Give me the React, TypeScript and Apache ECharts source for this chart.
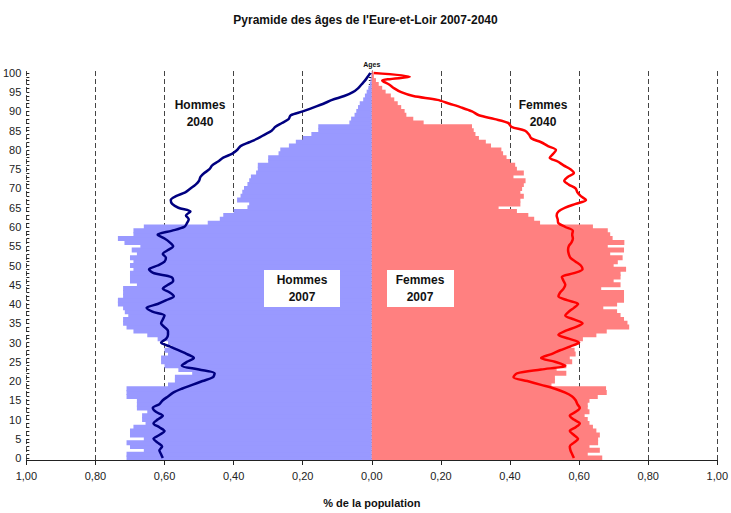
import React, { useEffect, useRef } from "react";
import * as echarts from "echarts";

const ages: string[] = Array.from({ length: 101 }, (_, i) => String(i));

// % of population, 2007 (bars), index = age
const hommes2007 = [
  0.71, 0.71, 0.66, 0.70, 0.71, 0.66, 0.70, 0.70, 0.69, 0.655,
  0.665, 0.665, 0.65, 0.68, 0.68, 0.68, 0.71, 0.71, 0.71, 0.59,
  0.57, 0.57, 0.52, 0.56, 0.60, 0.61, 0.61, 0.59, 0.60, 0.58,
  0.59, 0.62, 0.65, 0.69, 0.71, 0.72, 0.72, 0.705, 0.715, 0.72,
  0.735, 0.735, 0.72, 0.72, 0.72, 0.68, 0.70, 0.70, 0.70, 0.69,
  0.70, 0.69, 0.70, 0.68, 0.695, 0.67, 0.716, 0.735, 0.69, 0.69,
  0.66, 0.475, 0.44, 0.43, 0.40, 0.36, 0.355, 0.39, 0.38, 0.375,
  0.37, 0.36, 0.355, 0.35, 0.335, 0.33, 0.33, 0.30, 0.30, 0.27,
  0.265, 0.24, 0.22, 0.20, 0.175, 0.155, 0.155, 0.065, 0.06, 0.05,
  0.045, 0.04, 0.035, 0.025, 0.02, 0.015, 0.01, 0.006, 0.004, 0.002,
  0.001,
];

const femmes2007 = [
  0.667, 0.625, 0.66, 0.63, 0.655, 0.655, 0.66, 0.65, 0.64, 0.63,
  0.625, 0.616, 0.63, 0.625, 0.625, 0.63, 0.654, 0.68, 0.678, 0.52,
  0.53, 0.53, 0.563, 0.535, 0.563, 0.58, 0.573, 0.59, 0.587, 0.577,
  0.60, 0.611, 0.65, 0.68, 0.745, 0.74, 0.73, 0.72, 0.71, 0.67,
  0.71, 0.73, 0.73, 0.73, 0.664, 0.72, 0.70, 0.72, 0.72, 0.736,
  0.70, 0.712, 0.726, 0.69, 0.73, 0.683, 0.731, 0.697, 0.69, 0.683,
  0.64, 0.487, 0.47, 0.453, 0.42, 0.367, 0.43, 0.43, 0.44, 0.43,
  0.435, 0.44, 0.445, 0.41, 0.44, 0.42, 0.415, 0.40, 0.39, 0.38,
  0.375, 0.345, 0.33, 0.31, 0.30, 0.295, 0.29, 0.15, 0.12, 0.10,
  0.095, 0.085, 0.075, 0.065, 0.055, 0.04, 0.03, 0.02, 0.012, 0.006,
  0.003,
];

// % of population, 2040 projection (lines)
const hommes2040 = [
  0.605, 0.61, 0.615, 0.607, 0.62, 0.632, 0.615, 0.60, 0.615, 0.632,
  0.62, 0.605, 0.625, 0.634, 0.615, 0.605, 0.59, 0.575, 0.55, 0.52,
  0.49, 0.46, 0.455, 0.50, 0.55, 0.535, 0.515, 0.535, 0.56, 0.585,
  0.61, 0.595, 0.59, 0.59, 0.60, 0.61, 0.605, 0.60, 0.635, 0.652,
  0.62, 0.595, 0.573, 0.585, 0.605, 0.59, 0.575, 0.58, 0.63, 0.645,
  0.62, 0.60, 0.596, 0.605, 0.59, 0.575, 0.585, 0.60, 0.62, 0.58,
  0.543, 0.535, 0.53, 0.538, 0.525, 0.56, 0.578, 0.582, 0.567, 0.54,
  0.525, 0.51, 0.50, 0.496, 0.485, 0.47, 0.462, 0.445, 0.43, 0.405,
  0.39, 0.38, 0.355, 0.33, 0.31, 0.29, 0.279, 0.26, 0.241, 0.235,
  0.20, 0.17, 0.14, 0.115, 0.08, 0.055, 0.04, 0.03, 0.02, 0.012,
  0.004,
];

const femmes2040 = [
  0.585, 0.58, 0.575, 0.573, 0.585, 0.597, 0.585, 0.573, 0.59, 0.602,
  0.585, 0.573, 0.59, 0.602, 0.595, 0.59, 0.58, 0.56, 0.53, 0.49,
  0.45, 0.41, 0.42, 0.49, 0.56, 0.53, 0.49, 0.52, 0.545, 0.575,
  0.60, 0.57, 0.54, 0.56, 0.59, 0.61, 0.585, 0.56, 0.57, 0.585,
  0.597, 0.565, 0.54, 0.545, 0.555, 0.56, 0.555, 0.55, 0.585, 0.61,
  0.605, 0.59, 0.575, 0.57, 0.568, 0.57, 0.578, 0.582, 0.58, 0.582,
  0.56, 0.54, 0.538, 0.535, 0.54, 0.56, 0.59, 0.62, 0.605, 0.595,
  0.59, 0.57, 0.557, 0.567, 0.585, 0.575, 0.555, 0.538, 0.515, 0.525,
  0.533, 0.51, 0.49, 0.462, 0.455, 0.443, 0.404, 0.395, 0.356, 0.31,
  0.29, 0.26, 0.225, 0.19, 0.12, 0.085, 0.065, 0.05, 0.03, 0.11,
  0.005,
];

const xTicks = { min: -1, max: 1, interval: 0.2 };

const FONT = "'Liberation Sans', Arial, sans-serif";

const labelStyle = {
  fontSize: 12,
  fontWeight: "bold",
  fill: "#111",
  align: "center",
  verticalAlign: "middle",
  lineHeight: 17,
  fontFamily: FONT,
};

export default function App() {
  const ref = useRef<HTMLDivElement>(null);

  useEffect(() => {
    if (!ref.current) return;
    const chart = echarts.init(ref.current, null, { renderer: "svg" });

    const fmt = (v: number) => Math.abs(v).toFixed(2).replace(".", ",");

    const option: any = {
      animation: false,
      backgroundColor: "#ffffff",
      textStyle: { fontFamily: FONT },
      title: {
        text: "Pyramide des âges de l'Eure-et-Loir 2007-2040",
        left: "center",
        top: 9,
        textStyle: { fontSize: 12, fontWeight: "bold", color: "#111", fontFamily: FONT },
      },
      grid: { left: 23, right: 12, top: 71, bottom: 46, containLabel: false },
      xAxis: {
        type: "value",
        min: xTicks.min,
        max: xTicks.max,
        interval: xTicks.interval,
        name: "% de la population",
        nameLocation: "middle",
        nameGap: 37,
        nameTextStyle: { fontSize: 11, fontWeight: "bold", color: "#111", fontFamily: FONT },
        axisLine: { show: true, onZero: false, lineStyle: { color: "#222", width: 1 } },
        axisTick: { show: true, length: 5, lineStyle: { color: "#222" } },
        axisLabel: {
          formatter: fmt,
          fontSize: 11,
          color: "#222",
          margin: 10,
          showMinLabel: true,
          showMaxLabel: true,
          fontFamily: FONT,
        },
        splitLine: {
          show: true,
          lineStyle: { color: "#444", width: 1, type: [5, 3] },
        },
      },
      yAxis: [
        {
          type: "category",
          data: ages,
          boundaryGap: true,
          name: "Ages",
          nameLocation: "end",
          nameGap: 3,
          nameTextStyle: { fontSize: 7, fontWeight: "bold", color: "#111", align: "center" },
          axisLine: { show: true, onZero: true, lineStyle: { color: "#222", width: 1 } },
          axisTick: { show: true, interval: 0, alignWithLabel: true, length: 3, lineStyle: { color: "#222" } },
          axisLabel: {
            interval: (idx: number) => idx % 5 === 0,
            fontSize: 11,
            color: "#222",
            margin: 5,
            fontFamily: FONT,
          },
          splitLine: { show: false },
        },
        {
          type: "category",
          data: ages,
          boundaryGap: true,
          position: "left",
          axisLine: { show: false, onZero: true },
          axisTick: { show: true, inside: true, interval: 0, alignWithLabel: true, length: 3, lineStyle: { color: "#222" } },
          axisLabel: { show: false },
          splitLine: { show: false },
        },
      ],
      series: [
        {
          name: "Hommes 2007",
          type: "bar",
          stack: "pop",
          yAxisIndex: 0,
          barWidth: 5,
          itemStyle: { color: "#9999FF" },
          data: hommes2007.map((v) => -v),
          z: 1,
        },
        {
          name: "Femmes 2007",
          type: "bar",
          stack: "pop",
          yAxisIndex: 0,
          barWidth: 5,
          itemStyle: { color: "#FF8080" },
          data: femmes2007,
          z: 1,
        },
        {
          name: "Hommes 2040",
          type: "line",
          yAxisIndex: 0,
          data: hommes2040.map((v) => -v),
          symbol: "none",
          smooth: 0.3,
          lineStyle: { color: "#000080", width: 2.5 },
          z: 5,
        },
        {
          name: "Femmes 2040",
          type: "line",
          yAxisIndex: 0,
          data: femmes2040,
          symbol: "none",
          smooth: 0.3,
          lineStyle: { color: "#FF0000", width: 2.5 },
          z: 5,
        },
      ],
      graphic: [
        {
          type: "text",
          x: 200,
          y: 113,
          z: 100,
          style: { ...labelStyle, text: "Hommes\n2040" },
        },
        {
          type: "text",
          x: 543,
          y: 113,
          z: 100,
          style: { ...labelStyle, text: "Femmes\n2040" },
        },
        {
          type: "rect",
          x: 264,
          y: 270,
          z: 100,
          shape: { x: 0, y: 0, width: 76, height: 37 },
          style: { fill: "#ffffff" },
        },
        {
          type: "text",
          x: 302,
          y: 288,
          z: 101,
          style: { ...labelStyle, text: "Hommes\n2007" },
        },
        {
          type: "rect",
          x: 387,
          y: 270,
          z: 100,
          shape: { x: 0, y: 0, width: 67, height: 37 },
          style: { fill: "#ffffff" },
        },
        {
          type: "text",
          x: 420,
          y: 288,
          z: 101,
          style: { ...labelStyle, text: "Femmes\n2007" },
        },
      ],
    };

    chart.setOption(option);
    return () => chart.dispose();
  }, []);

  return (
    <div
      ref={ref}
      style={{ position: "absolute", left: 0, top: 0, width: 731, height: 513 }}
    />
  );
}
